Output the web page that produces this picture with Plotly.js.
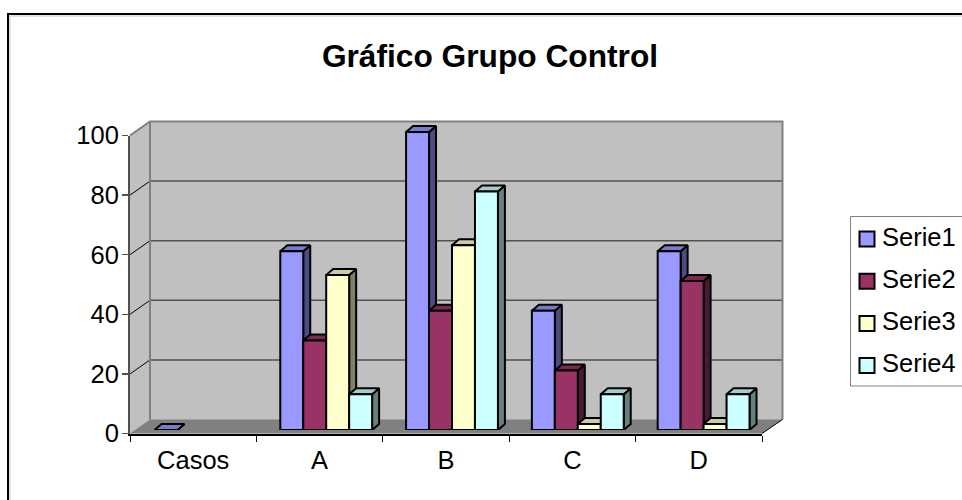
<!DOCTYPE html>
<html>
<head>
<meta charset="utf-8">
<script src="https://cdn.plot.ly/plotly-3.0.1.min.js"></script>
<style>html,body{margin:0;padding:0;background:#fff;overflow:hidden}</style>
</head>
<body>
<div id="chart" style="width:962px;height:500px"></div>
<script>
var categories = ['Casos', 'A', 'B', 'C', 'D'];
var seriesNames = ['Serie1', 'Serie2', 'Serie3', 'Serie4'];
var serie1 = [0, 60, 100, 40, 60];
var serie2 = [null, 30, 40, 20, 50];
var serie3 = [null, 52, 62, 2, 2];
var serie4 = [null, 12, 80, 12, 12];
var yTicks = [0, 20, 40, 60, 80, 100];
var frontColors = ['#9999FF', '#993366', '#FFFFCC', '#CCFFFF'];
var topColors = ['#7A7ACC', '#7A2952', '#CCCCA3', '#A3CCCC'];
var sideColors = ['#4C4C80', '#4C1933', '#808066', '#668080'];

var W = 962, H = 500;
var FONT = '"Liberation Sans", Arial, sans-serif';
var FS = 25.5;
function px(x) { return x / W; }
function py(y) { return 1 - y / H; }

var axL = 130, axR = 762, axBase = 433.5, axTop = 135.5;
var wallDx = 20.5, wallDy = 14;
var barL = 137.5, barR = 766.5, barBase = 430, barTop = 132;
var catPx = (barR - barL) / categories.length;
var unitPx = (barBase - barTop) / 100;
var bargap = 0.27;
var depthDx = 7, depthDy = 6;
var yHead = 110; // headroom so the depth faces of the tallest column stay inside the subplot

var all = [serie1, serie2, serie3, serie4];
var slot = (1 - bargap) / all.length;
var dX = depthDx / catPx, dY = depthDy / unitPx;

var traces = [];
// carrier trace so the visible axes form a subplot
traces.push({type: 'scatter', mode: 'none', x: categories, y: categories.map(function () { return null; }),
  xaxis: 'x', yaxis: 'y', showlegend: false, hoverinfo: 'skip'});

// depth faces of each column, from the same values
all.forEach(function (vals, s) {
  var sx = [], sy = [], tx = [], ty = [];
  vals.forEach(function (v, i) {
    if (v === null) return;
    var xl = i - (1 - bargap) / 2 + s * slot, xr = xl + slot;
    sx.push(xr, xr + dX, xr + dX, xr, xr, null);
    sy.push(0, dY, v + dY, v, 0, null);
    tx.push(xl, xl + dX, xr + dX, xr, xl, null);
    ty.push(v, v + dY, v + dY, v, v, null);
  });
  [[sx, sy, sideColors[s]], [tx, ty, topColors[s]]].forEach(function (f) {
    traces.push({type: 'scatter', mode: 'lines', x: f[0], y: f[1], xaxis: 'x2', yaxis: 'y2',
      fill: 'toself', fillcolor: f[2], line: {color: '#000', width: 2}, cliponaxis: false,
      showlegend: false, hoverinfo: 'skip', connectgaps: false});
  });
});

// front faces
all.forEach(function (vals, s) {
  traces.push({type: 'bar', name: seriesNames[s], x: categories, y: vals, xaxis: 'x3', yaxis: 'y3',
    legendgroup: seriesNames[s], cliponaxis: false,
    marker: {color: frontColors[s], line: {color: '#000', width: 2}}});
});

function wallY(v) { return axBase - wallDy - v * (axBase - axTop) / 100; }
function frontY(v) { return axBase - v * (axBase - axTop) / 100; }
function path(pts) {
  return 'M' + pts.map(function (p) { return px(p[0]) + ',' + py(p[1]); }).join('L');
}
function pshape(pts, fill, color, width) {
  return {type: 'path', xref: 'paper', yref: 'paper', layer: 'below', path: path(pts),
    fillcolor: fill || 'rgba(0,0,0,0)', line: {color: color || 'rgba(0,0,0,0)', width: width || 0}};
}
var wL = axL + wallDx - 0.5, wR = axR + wallDx, wT = wallY(100), wB = wallY(0);
var shapes = [
  pshape([[axL, axTop], [wL, wT], [wR, wT], [wR, wB], [axR, axBase], [axL, axBase]], '#C0C0C0'),
  pshape([[axL, axBase], [wL, wB], [wR, wB], [axR, axBase]], '#808080')
];
yTicks.forEach(function (v) {
  if (v > 0 && v < 100) {
    shapes.push(pshape([[wL, wallY(v)], [wR, wallY(v)]], null, '#505050', 1.5));
    shapes.push(pshape([[axL, frontY(v)], [wL, wallY(v)]], null, '#000', 1));
  }
});
shapes.push(pshape([[axL, axTop], [wL, wT], [wR, wT], [wR, wB]], null, '#808080', 2));
shapes.push(pshape([[wL, wT], [wL, wB]], null, '#808080', 2));
shapes.push(pshape([[wR, wB], [axR, axBase]], null, '#000', 1));
// chart-area frame and legend box
shapes.push(pshape([[10, 510], [10, 16], [975, 16]], null, '#C8C8C8', 1));
shapes.push(pshape([[8, 510], [8, 14], [975, 14]], null, '#000', 2));
shapes.push(pshape([[850.5, 216.5], [975, 216.5], [975, 386], [850.5, 386], [850.5, 216.5]], '#fff', '#808080', 1));

var domX = [px(axL), px(axR)], domY = [py(axBase), py(axTop)];
var barDomX = [px(barL), px(barR)], barDomY = [py(barBase), py(barBase - yHead * unitPx)];
var catRange = [-0.5, categories.length - 0.5];
var hidden = {visible: false, fixedrange: true};

var layout = {
  width: W, height: H, autosize: false,
  margin: {l: 0, r: 0, t: 0, b: 0, pad: 0, autoexpand: false},
  paper_bgcolor: '#fff', plot_bgcolor: 'rgba(0,0,0,0)',
  font: {family: FONT, color: '#000', size: FS},
  title: {text: 'Gráfico Grupo Control', font: {family: FONT, size: 31.7, weight: 700, color: '#000'},
    x: 490 / W, xanchor: 'center', xref: 'paper', y: py(55.5), yanchor: 'middle', yref: 'paper'},
  barmode: 'group', bargap: bargap, bargroupgap: 0,
  xaxis: {domain: domX, anchor: 'y', type: 'category', categoryorder: 'array', categoryarray: categories,
    range: catRange, tickson: 'boundaries', ticks: 'outside', ticklen: 6, tickwidth: 1, tickcolor: '#000',
    ticklabelstandoff: 3,
    showline: true, linecolor: '#000', linewidth: 2, showgrid: false, zeroline: false,
    tickfont: {family: FONT, size: FS, color: '#000'}, fixedrange: true},
  yaxis: {domain: domY, anchor: 'x', range: [0, 100], tickmode: 'array', tickvals: yTicks, ticktext: yTicks.map(String),
    ticks: 'outside', ticklen: 6, tickwidth: 1.5, tickcolor: '#505050',
    ticklabelstandoff: -2,
    showline: true, linecolor: '#505050', linewidth: 2, showgrid: false, zeroline: false,
    tickfont: {family: FONT, size: FS, color: '#000'}, fixedrange: true},
  xaxis2: Object.assign({domain: barDomX, anchor: 'y2', type: 'linear', range: catRange}, hidden),
  yaxis2: Object.assign({domain: barDomY, anchor: 'x2', range: [0, yHead]}, hidden),
  xaxis3: Object.assign({domain: barDomX, anchor: 'y3', type: 'category', categoryorder: 'array', categoryarray: categories, range: catRange}, hidden),
  yaxis3: Object.assign({domain: barDomY, anchor: 'x3', range: [0, yHead]}, hidden),
  legend: {x: px(842), xanchor: 'left', y: py(213), yanchor: 'top', bgcolor: 'rgba(0,0,0,0)', borderwidth: 0,
    font: {family: FONT, size: FS, color: '#000'}, tracegroupgap: 6, traceorder: 'grouped', itemclick: false, itemdoubleclick: false},
  shapes: shapes,
  showlegend: true
};

Plotly.newPlot('chart', traces, layout, {displayModeBar: false, staticPlot: true}).then(function () {
  document.querySelectorAll('.legend .legendpoints path').forEach(function (p) {
    p.setAttribute('d', 'M7.5,7.5H-7.5V-7.5H7.5Z');
    p.setAttribute('transform', 'translate(25,3)');
    p.style.strokeWidth = '2px';
  });
});
</script>
</body>
</html>
